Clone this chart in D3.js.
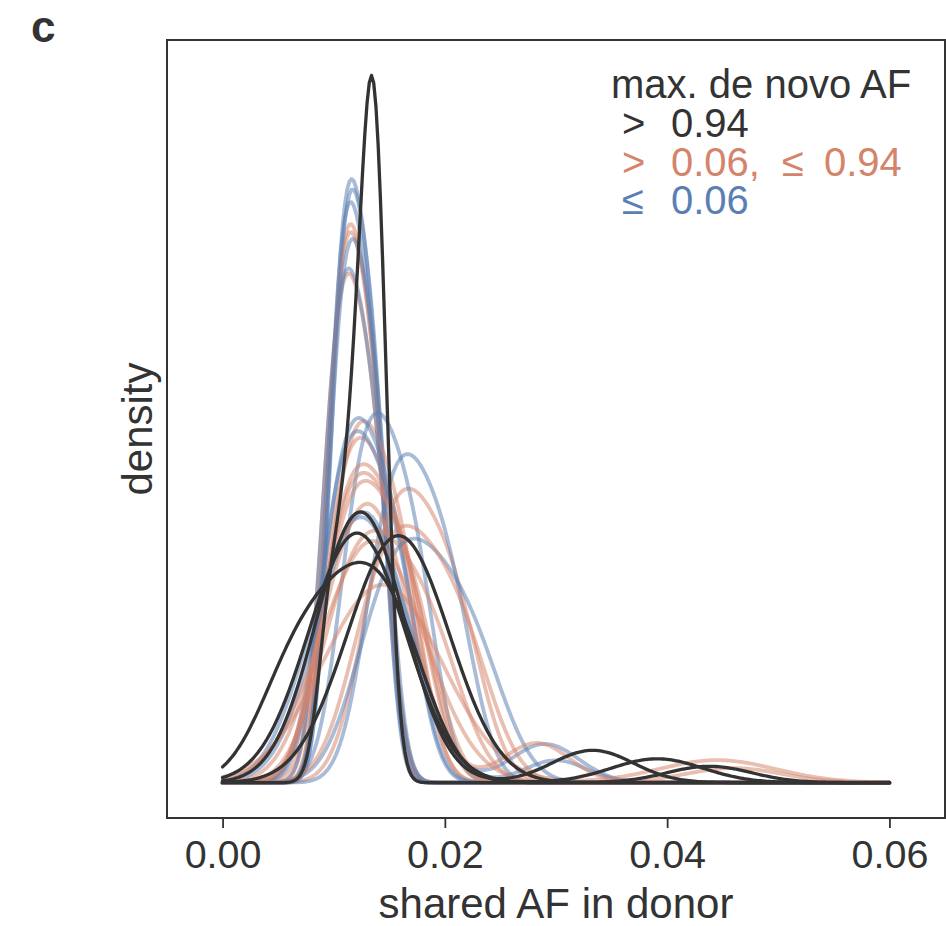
<!DOCTYPE html>
<html><head><meta charset="utf-8">
<script src="https://cdn.jsdelivr.net/npm/d3@7"></script>
<style>body{margin:0;background:#fff} text{font-family:"Liberation Sans",Arial,sans-serif}</style>
</head><body><svg id="c" width="946" height="926"></svg>
<script>
// ---- data: shared AF values per donor sample, grouped by max. de novo AF ----
const xTicks = [0, 0.02, 0.04, 0.06];
const xLabel = "shared AF in donor";
const yLabel = "density";
const panel = "c";
const legendTitle = "max. de novo AF";

// ≤ 0.06 (blue)
const lowAF = [
  [0.01011, 0.01099, 0.01187, 0.01286, 0.01407],
  [0.01017, 0.01107, 0.01196, 0.01297, 0.01420],
  [0.00996, 0.01088, 0.01179, 0.01282, 0.01408],
  [0.01004, 0.01101, 0.01199, 0.01309, 0.01443],
  [0.00957, 0.01061, 0.01164, 0.01280, 0.01422],
  [0.00977, 0.01122, 0.01268, 0.01432, 0.01632],
  [0.01150, 0.01293, 0.01437, 0.01599, 0.01796],
  [0.00958, 0.01109, 0.01260, 0.01430, 0.01638],
  [0.01389, 0.01550, 0.01712, 0.01894, 0.02116],
  [0.00819, 0.00915, 0.00979, 0.01043, 0.01091, 0.01139, 0.01187, 0.01227, 0.01259, 0.01283, 0.01315, 0.01355, 0.01395, 0.01443, 0.01491, 0.01555, 0.01619, 0.01715, 0.0287, 0.0293],
  [0.0068, 0.0080, 0.0088, 0.0096, 0.0102, 0.0108, 0.0114, 0.0119, 0.0123, 0.0126, 0.0130, 0.0135, 0.0140, 0.0146, 0.0152, 0.0160, 0.0168, 0.0180, 0.0300],
  [0.01353, 0.01570, 0.01788, 0.02033, 0.02332]
];
// > 0.06, ≤ 0.94 (salmon)
const midAF = [
  [0.00990, 0.01085, 0.01180, 0.01287, 0.01418],
  [0.00987, 0.01084, 0.01180, 0.01289, 0.01421],
  [0.00956, 0.01061, 0.01165, 0.01282, 0.01426],
  [0.01019, 0.01166, 0.01313, 0.01478, 0.01680],
  [0.00980, 0.01134, 0.01288, 0.01461, 0.01673],
  [0.01366, 0.01546, 0.01727, 0.01930, 0.02179],
  [0.00986, 0.01152, 0.01319, 0.01507, 0.01736],
  [0.00978, 0.01150, 0.01321, 0.01514, 0.01750],
  [0.00987, 0.01163, 0.01339, 0.01537, 0.01779],
  [0.01019, 0.01229, 0.01440, 0.01677, 0.01967],
  [0.01157, 0.01217, 0.01257, 0.01297, 0.01327, 0.01357, 0.01387, 0.01412, 0.01432, 0.01447, 0.01467, 0.01492, 0.01517, 0.01547, 0.01577, 0.01617, 0.01657, 0.01717, 0.0435, 0.0455],
  [0.01302, 0.01508, 0.01715, 0.01948, 0.02232],
  [0.01014, 0.01086, 0.01134, 0.01182, 0.01218, 0.01254, 0.0129, 0.0132, 0.01344, 0.01362, 0.01386, 0.01416, 0.01446, 0.01482, 0.01518, 0.01566, 0.01614, 0.01686, 0.0460],
  [0.00852, 0.00948, 0.01012, 0.01076, 0.01124, 0.01172, 0.0122, 0.0126, 0.01292, 0.01316, 0.01348, 0.01388, 0.01428, 0.01476, 0.01524, 0.01588, 0.01652, 0.01748, 0.0275, 0.0290]
];
// > 0.94 (black)
const highAF = [
  [0.00954, 0.01104, 0.01210, 0.01285, 0.01338, 0.01370, 0.01391, 0.01413],
  [0.0096, 0.0102, 0.0106, 0.0110, 0.0113, 0.0116, 0.0119, 0.01215, 0.01235, 0.0125, 0.0127, 0.01295, 0.0132, 0.0135, 0.0138, 0.0142, 0.0146, 0.0152, 0.0328, 0.0338],
  [0.0093, 0.0099, 0.0103, 0.0106, 0.0109, 0.0111, 0.0113, 0.0116, 0.0118, 0.01195, 0.01205, 0.01215, 0.01225, 0.0124, 0.01265, 0.0129, 0.0131, 0.0133, 0.0136, 0.0139, 0.0143, 0.0149, 0.0386, 0.0396],
  [0.01132, 0.01228, 0.01292, 0.01356, 0.01404, 0.01452, 0.0150, 0.0154, 0.01572, 0.01596, 0.01628, 0.01668, 0.01708, 0.01756, 0.01804, 0.01868, 0.01932, 0.02028, 0.0438],
  [0.00562, 0.00894, 0.01165, 0.01406, 0.01648]
];

const groupColor = {low: "#5a7fb3", mid: "#d4846b", high: "#333333"};

// ---- layout ----
const svg = d3.select("#c");
const L = 167, R = 945, T = 40, B = 818;

// gaussian KDE with Scott's rule (as scipy / seaborn)
const grid = d3.range(0, 301).map(i => i * 0.06 / 300);
function kde(vals) {
  const n = vals.length, m = d3.mean(vals);
  const sd = Math.sqrt(d3.sum(vals, v => (v - m) ** 2) / (n - 1));
  const h = sd * Math.pow(n, -0.2);
  const c = 1 / (n * h * Math.sqrt(2 * Math.PI));
  return grid.map(x => [x, c * d3.sum(vals, v => Math.exp(-0.5 * ((x - v) / h) ** 2))]);
}
const curves = [];
const nMax = Math.max(lowAF.length, midAF.length);
for (let i = 0; i < nMax; i++) {
  if (lowAF[i]) curves.push({g: "low", d: kde(lowAF[i])});
  if (midAF[i]) curves.push({g: "mid", d: kde(midAF[i])});
}
highAF.forEach(s => curves.push({g: "high", d: kde(s)}));

const maxD = d3.max(curves, c => d3.max(c.d, p => p[1]));
const x = d3.scaleLinear().domain([-0.005, 0.065]).range([L, R]);
const y = d3.scaleLinear().domain([-0.05 * maxD, 1.05 * maxD]).range([B, T]);

const line = d3.line().x(p => x(p[0])).y(p => y(p[1]));
svg.append("g").selectAll("path").data(curves).join("path")
  .attr("d", c => line(c.d))
  .attr("fill", "none")
  .attr("stroke", c => groupColor[c.g])
  .attr("stroke-opacity", c => c.g === "high" ? 1 : 0.52)
  .attr("stroke-width", c => c.g === "high" ? 3.3 : 3.8)
  .attr("stroke-linejoin", "round")
  .attr("stroke-linecap", "round");

// frame
svg.append("rect").attr("x", L).attr("y", T).attr("width", R - L).attr("height", B - T)
  .attr("fill", "none").attr("stroke", "#333").attr("stroke-width", 2);

// x axis
const xa = svg.append("g").attr("transform", `translate(0,${B})`)
  .call(d3.axisBottom(x).tickValues(xTicks).tickFormat(d3.format(".2f")).tickSize(10).tickPadding(12));
xa.select(".domain").remove();
xa.selectAll("line").attr("stroke", "#333").attr("stroke-width", 1.8);
xa.selectAll("text").attr("font-size", 39.5).attr("fill", "#333")
  .attr("font-family", '"Liberation Sans",Arial,sans-serif');

svg.append("text").attr("x", (L + R) / 2).attr("y", 918).attr("text-anchor", "middle")
  .attr("font-size", 42).attr("fill", "#333").text(xLabel);
svg.append("text").attr("transform", `translate(152,${(T + B) / 2}) rotate(-90)`)
  .attr("text-anchor", "middle").attr("font-size", 42).attr("fill", "#333").text(yLabel);
svg.append("text").attr("x", 31).attr("y", 42).attr("font-size", 44).attr("font-weight", "bold")
  .attr("fill", "#333").text(panel);

// legend
svg.append("text").attr("x", 611).attr("y", 98).attr("font-size", 40).attr("fill", "#333").text(legendTitle);
const legendItems = [
  {g: "high", parts: [[">", 622], ["0.94", 671]]},
  {g: "mid", parts: [[">", 622], ["0.06,", 671], ["≤", 782], ["0.94", 824]]},
  {g: "low", parts: [["≤", 622], ["0.06", 671]]}
];
legendItems.forEach((it, i) => {
  const t = svg.append("text").attr("y", 137 + i * 38.5).attr("font-size", 40).attr("fill", groupColor[it.g]);
  it.parts.forEach(p => t.append("tspan").attr("x", p[1]).text(p[0]));
});
</script></body></html>
